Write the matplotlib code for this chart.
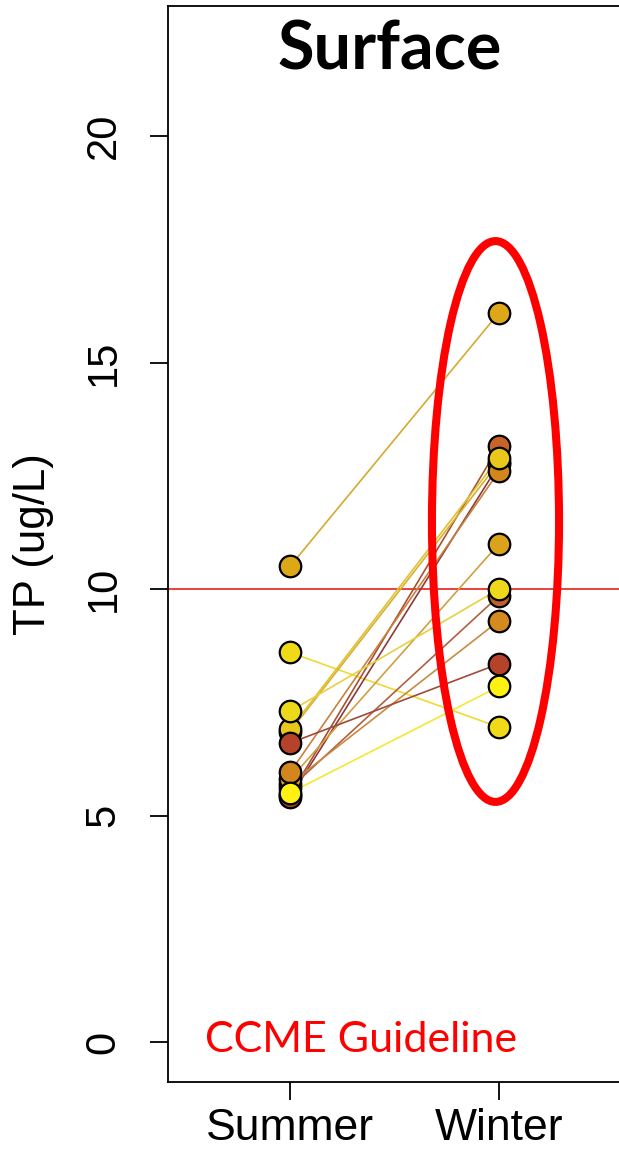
import matplotlib
matplotlib.use("Agg")
import matplotlib.pyplot as plt
from matplotlib.patches import Ellipse

# paired samples per site: summer TP, winter TP (ug/L)
summer = [10.5, 8.6, 5.45, 5.4, 6.85, 5.6, 5.7, 5.8, 5.95, 6.9, 6.6, 7.3, 5.5]
winter = [16.1, 6.95, 13.15, 12.75, 12.8, 9.85, 9.3, 11.0, 12.6, 12.9, 8.35, 10.0, 7.85]
pt_colors = ['#DDA818', '#F0DA18', '#C8642A', '#A8402A', '#E2B81A', '#C0602A',
             '#D48A1E', '#DBA21C', '#D4861E', '#E8C81A', '#B5432A', '#EED81A', '#FFF212']
ln_colors = ['#D4AA30', '#F0DA30', '#A85030', '#8E3A3A', '#D8B030', '#B06040',
             '#C88A40', '#D0A040', '#C8803A', '#E0C030', '#A04A3A', '#E8D040', '#F5E830']
seasons = ['Summer', 'Winter']
yticks = [0, 5, 10, 15, 20]
guideline = 10

fig = plt.figure(figsize=(6.19, 11.49), dpi=100)
ax = fig.add_axes([168/619, 1-1082/1149, (720-168)/619, (1082-6)/1149])

for s, w, lc in zip(summer, winter, ln_colors):
    ax.plot([1, 2], [s, w], color=lc, lw=1.2, zorder=2)
for s, w, pc in zip(summer, winter, pt_colors):
    ax.plot([1, 2], [s, w], ls='none', marker='o', ms=15.5, mfc=pc, mec='black',
            mew=1.6, zorder=3)

ax.axhline(guideline, color='#E8201A', lw=1.2, zorder=1)
ax.add_patch(Ellipse((1.983, 11.49), 0.608, 12.38, fill=False, edgecolor='#FF0000',
                     lw=5.8, zorder=4))
ax.text(0.593, -0.22, 'CCME Guideline', color='#FF0000', fontsize=31,
        family='Lato', ha='left', va='baseline')

ax.set_xlim(0.4163, 3.057)
ax.set_ylim(-0.883, 22.87)
ax.set_xticks([1, 2])
ax.set_xticklabels(seasons, family='Liberation Sans', fontsize=32)
ax.set_yticks(yticks)
ax.set_yticklabels([str(v) for v in yticks], family='Liberation Sans', fontsize=30,
                   rotation=90, va='center')
ax.tick_params(axis='y', length=13, width=1.3, pad=19)
ax.tick_params(axis='x', length=13, width=1.3, pad=6)
ax.set_ylabel('TP (ug/L)', family='Liberation Sans', fontsize=31.5, labelpad=21)
ax.spines['right'].set_visible(False)
for sp in ['left', 'top', 'bottom']:
    ax.spines[sp].set_linewidth(1.3)

fig.text(390/619, 1-70/1149, 'Surface', fontsize=48, fontweight='bold',
         family='Lato', ha='center', va='baseline')

fig.savefig('out.png', dpi=100)
